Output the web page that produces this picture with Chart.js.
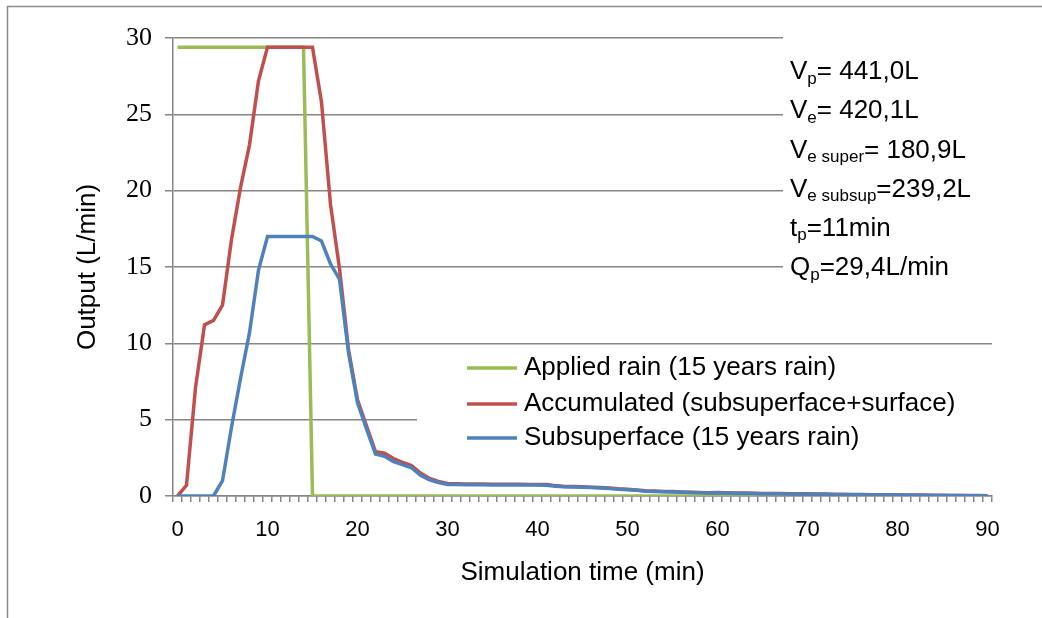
<!DOCTYPE html>
<html>
<head>
<meta charset="utf-8">
<script src="https://cdn.jsdelivr.net/npm/chart.js@4.4.0/dist/chart.umd.min.js"></script>
<style>
  html, body { margin: 0; padding: 0; background: #fff; }
  #wrap { width: 1042px; height: 618px; position: relative; }
</style>
</head>
<body>
<div id="wrap"><canvas id="chart"></canvas></div>
<script>
// minutes of simulation (categories)
const minutes = [
  0, 1, 2, 3, 4, 5, 6, 7, 8, 9,
  10, 11, 12, 13, 14, 15, 16, 17, 18, 19,
  20, 21, 22, 23, 24, 25, 26, 27, 28, 29,
  30, 31, 32, 33, 34, 35, 36, 37, 38, 39,
  40, 41, 42, 43, 44, 45, 46, 47, 48, 49,
  50, 51, 52, 53, 54, 55, 56, 57, 58, 59,
  60, 61, 62, 63, 64, 65, 66, 67, 68, 69,
  70, 71, 72, 73, 74, 75, 76, 77, 78, 79,
  80, 81, 82, 83, 84, 85, 86, 87, 88, 89,
  90
];

const appliedRain = [
  29.4, 29.4, 29.4, 29.4, 29.4, 29.4, 29.4, 29.4, 29.4, 29.4,
  29.4, 29.4, 29.4, 29.4, 29.4, 0, 0, 0, 0, 0,
  0, 0, 0, 0, 0, 0, 0, 0, 0, 0,
  0, 0, 0, 0, 0, 0, 0, 0, 0, 0,
  0, 0, 0, 0, 0, 0, 0, 0, 0, 0,
  0, 0, 0, 0, 0, 0, 0, 0, 0, 0,
  0, 0, 0, 0, 0, 0, 0, 0, 0, 0,
  0, 0, 0, 0, 0, 0, 0, 0, 0, 0,
  0, 0, 0, 0, 0, 0, 0, 0, 0, 0,
  0
];

const accumulated = [
  0, 0.7, 7.1, 11.2, 11.5, 12.5, 16.8, 20.2, 23.0, 27.2,
  29.4, 29.4, 29.4, 29.4, 29.4, 29.4, 25.8, 19.1, 14.9, 9.6,
  6.3, 4.6, 2.9, 2.8, 2.45, 2.2, 2.0, 1.5, 1.15, 0.95,
  0.82, 0.8, 0.79, 0.78, 0.78, 0.77, 0.77, 0.77, 0.77, 0.76,
  0.76, 0.75, 0.68, 0.63, 0.62, 0.6, 0.58, 0.56, 0.52, 0.47,
  0.44, 0.4, 0.34, 0.32, 0.3, 0.29, 0.27, 0.25, 0.23, 0.21,
  0.23, 0.21, 0.19, 0.19, 0.18, 0.17, 0.16, 0.16, 0.15, 0.14,
  0.14, 0.13, 0.13, 0.11, 0.11, 0.1, 0.1, 0.09, 0.09, 0.08,
  0.09, 0.07, 0.06, 0.06, 0.05, 0.05, 0.04, 0.04, 0.03, 0.03,
  0.02
];

const subsuperface = [
  0, 0, 0, 0, 0, 1.0, 4.5, 7.7, 10.7, 14.8,
  17.0, 17.0, 17.0, 17.0, 17.0, 17.0, 16.7, 15.2, 14.2, 9.4,
  6.1, 4.4, 2.75, 2.6, 2.25, 2.05, 1.85, 1.35, 1.05, 0.88,
  0.76, 0.75, 0.74, 0.73, 0.73, 0.72, 0.72, 0.72, 0.72, 0.72,
  0.72, 0.71, 0.64, 0.6, 0.59, 0.57, 0.55, 0.53, 0.49, 0.44,
  0.41, 0.37, 0.31, 0.29, 0.28, 0.27, 0.25, 0.23, 0.21, 0.19,
  0.21, 0.19, 0.17, 0.17, 0.16, 0.15, 0.14, 0.14, 0.13, 0.12,
  0.12, 0.11, 0.11, 0.09, 0.09, 0.08, 0.08, 0.07, 0.07, 0.06,
  0.07, 0.05, 0.05, 0.04, 0.04, 0.03, 0.03, 0.03, 0.02, 0.02,
  0.02
];

const xTickLabels = ["0", "10", "20", "30", "40", "50", "60", "70", "80", "90"];
const yTicks = [0, 5, 10, 15, 20, 25, 30];
const seriesNames = [
  "Applied rain (15 years rain)",
  "Accumulated (subsuperface+surface)",
  "Subsuperface (15 years rain)"
];

// stats box: symbol, subscript, rest
const statSymbols = ["V", "V", "V", "V", "t", "Q"];
const statSubs = ["p", "e", "e super", "e subsup", "p", "p"];
const statValues = ["= 441,0L", "= 420,1L", "= 180,9L", "=239,2L", "=11min", "=29,4L/min"];

const SANS = "'Liberation Sans', Arial, sans-serif";
const SERIF = "'Liberation Serif', 'Times New Roman', serif";
const GRID = "#868686";

const overlayPlugin = {
  id: "overlay",
  beforeDraw(chart) {
    const ctx = chart.ctx;
    ctx.save();
    ctx.fillStyle = "#fff";
    ctx.fillRect(0, 0, chart.width, chart.height);
    ctx.strokeStyle = "#8c8c8c";
    ctx.lineWidth = 1.5;
    ctx.strokeRect(7.5, 6.5, chart.width + 20, chart.height + 20);
    ctx.restore();
  },
  beforeDatasetsDraw(chart) {
    // legend box and stats box sit over the gridlines
    const { ctx, chartArea: a } = chart;
    ctx.save();
    ctx.fillStyle = "#fff";
    ctx.fillRect(783, a.top - 10, a.right - 783 + 2, 270);
    ctx.fillRect(417, 350, a.right - 417 + 2, 112);
    ctx.restore();
  },
  afterDraw(chart) {
    const ctx = chart.ctx;
    ctx.save();
    // legend
    const rowsY = [368, 404, 438];
    ctx.font = "26px " + SANS;
    ctx.textBaseline = "middle";
    ctx.textAlign = "left";
    chart.data.datasets.forEach((ds, i) => {
      ctx.strokeStyle = ds.borderColor;
      ctx.lineWidth = 3.5;
      ctx.beginPath();
      ctx.moveTo(467, rowsY[i]);
      ctx.lineTo(517, rowsY[i]);
      ctx.stroke();
      ctx.fillStyle = "#000";
      ctx.fillText(ds.label, 524, rowsY[i]);
    });
    // stats text
    statSymbols.forEach((sym, i) => {
      const y = 72 + 39.2 * i;
      let x = 790;
      ctx.font = "26px " + SANS;
      ctx.fillText(sym, x, y);
      x += ctx.measureText(sym).width;
      ctx.font = "17px " + SANS;
      ctx.fillText(statSubs[i], x, y + 7);
      x += ctx.measureText(statSubs[i]).width;
      ctx.font = "26px " + SANS;
      ctx.fillText(statValues[i], x, y);
    });
    ctx.restore();
  }
};

const chartCtx = document.getElementById("chart").getContext("2d");

const chart = new Chart(chartCtx, {
  type: "line",
  data: {
    labels: minutes,
    datasets: [{
      label: seriesNames[0],
      data: appliedRain,
      borderColor: "#9BBB59",
      borderWidth: 3.5,
      order: 3
    }, {
      label: seriesNames[1],
      data: accumulated,
      borderColor: "#C0504D",
      borderWidth: 3.5,
      order: 2
    }, {
      label: seriesNames[2],
      data: subsuperface,
      borderColor: "#4F81BD",
      borderWidth: 3.5,
      order: 1
    }]
  },
  options: {
    responsive: true,
    maintainAspectRatio: false,
    animation: false,
    events: [],
    elements: {
      point: { radius: 0 },
      line: { tension: 0, fill: false }
    },
    layout: { padding: { top: 38, right: 50, bottom: 0, left: 0 } },
    plugins: {
      legend: { display: false },
      tooltip: { enabled: false }
    },
    scales: {
      x: {
        type: "category",
        offset: true,
        grid: {
          offset: true,
          drawOnChartArea: false,
          drawTicks: true,
          tickLength: 6,
          color: GRID,
          lineWidth: 1.5
        },
        border: { color: GRID, width: 1.5 },
        ticks: {
          autoSkip: false,
          maxRotation: 0,
          padding: 15,
          color: "#000",
          font: { family: SANS, size: 22 },
          callback: (val, idx) => xTickLabels.includes(String(minutes[idx])) ? String(minutes[idx]) : ""
        },
        title: {
          display: true,
          text: "Simulation time (min)",
          color: "#000",
          font: { family: SANS, size: 26 },
          padding: { top: 0, bottom: 30 }
        },
        afterFit: (scale) => { scale.height = 122; }
      },
      y: {
        min: 0,
        max: 30,
        afterBuildTicks: (scale) => { scale.ticks = yTicks.map(v => ({ value: v })); },
        grid: {
          color: GRID,
          lineWidth: 1.5,
          tickLength: 8
        },
        border: { color: GRID, width: 1.5 },
        ticks: {
          padding: 13,
          color: "#000",
          font: { family: SERIF, size: 26 }
        },
        title: {
          display: true,
          text: "Output (L/min)",
          color: "#000",
          font: { family: SANS, size: 26 },
          padding: { top: 72, bottom: 0 }
        },
        afterFit: (scale) => { scale.width = 173; }
      }
    }
  },
  plugins: [overlayPlugin]
});
</script>
</body>
</html>
